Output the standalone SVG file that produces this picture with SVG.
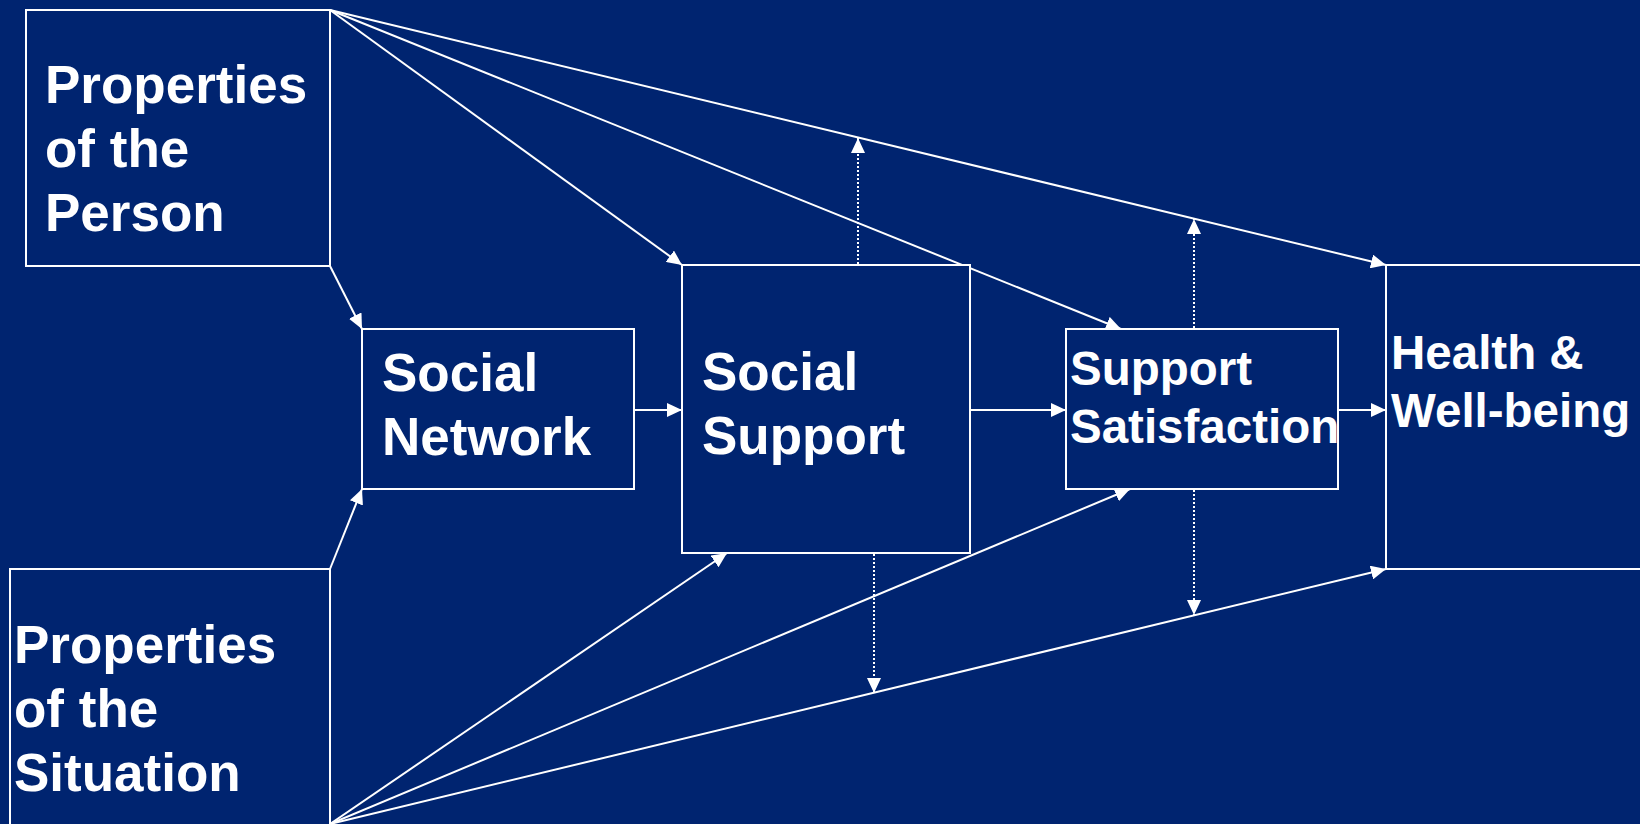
<svg xmlns="http://www.w3.org/2000/svg" width="1640" height="824" viewBox="0 0 1640 824">
  <defs>
    <marker id="arrow" markerUnits="userSpaceOnUse" markerWidth="16" markerHeight="14" refX="15" refY="7" orient="auto">
      <path d="M0,0 L15,7 L0,14 Z" fill="#ffffff"/>
    </marker>
    <style>
      .box { fill: #002470; stroke: #ffffff; stroke-width: 2; }
      .lbl { fill: #ffffff; font-family: "Liberation Sans", Arial, sans-serif; font-weight: bold; font-size: 53px; }
      .lbl-sm { fill: #ffffff; font-family: "Liberation Sans", Arial, sans-serif; font-weight: bold; font-size: 47.5px; }
      .edge { fill: none; stroke: #ffffff; stroke-width: 2; marker-end: url(#arrow); }
      .mod { fill: none; stroke: #ffffff; stroke-width: 2; stroke-dasharray: 2 2; marker-end: url(#arrow); }
    </style>
  </defs>

  <rect width="1640" height="824" fill="#002470"/>

  <!-- connectors -->
  <g id="connectors">
    <!-- from Properties of the Person -->
    <line class="edge" x1="330" y1="10" x2="682" y2="265"/>
    <line class="edge" x1="330" y1="10" x2="1121" y2="329"/>
    <line class="edge" x1="330" y1="10" x2="1386" y2="265"/>
    <line class="edge" x1="330" y1="266" x2="362" y2="329"/>
    <!-- from Properties of the Situation -->
    <line class="edge" x1="330" y1="569" x2="362" y2="489"/>
    <line class="edge" x1="330" y1="824" x2="727" y2="553"/>
    <line class="edge" x1="330" y1="824" x2="1130" y2="489"/>
    <line class="edge" x1="330" y1="824" x2="1386" y2="569"/>
    <!-- main chain -->
    <line class="edge" x1="634" y1="410" x2="682" y2="410"/>
    <line class="edge" x1="970" y1="410" x2="1066" y2="410"/>
    <line class="edge" x1="1338" y1="410" x2="1386" y2="410"/>
    <!-- moderating (dotted) paths -->
    <line class="mod" x1="858" y1="264" x2="858" y2="138"/>
    <line class="mod" x1="1194" y1="328" x2="1194" y2="219"/>
    <line class="mod" x1="874" y1="554" x2="874" y2="693"/>
    <line class="mod" x1="1194" y1="490" x2="1194" y2="615"/>
  </g>

  <g id="person">
    <rect class="box" x="26" y="10" width="304" height="256"/>
    <text class="lbl" x="45" y="103">Properties</text>
    <text class="lbl" x="45" y="167">of the</text>
    <text class="lbl" x="45" y="231">Person</text>
  </g>

  <g id="situation">
    <rect class="box" x="10" y="569" width="320" height="270"/>
    <text class="lbl" x="14" y="663">Properties</text>
    <text class="lbl" x="14" y="727">of the</text>
    <text class="lbl" x="14" y="791">Situation</text>
  </g>

  <g id="social-network">
    <rect class="box" x="362" y="329" width="272" height="160"/>
    <text class="lbl" x="382" y="391">Social</text>
    <text class="lbl" x="382" y="455">Network</text>
  </g>

  <g id="social-support">
    <rect class="box" x="682" y="265" width="288" height="288"/>
    <text class="lbl" x="702" y="390">Social</text>
    <text class="lbl" x="702" y="454">Support</text>
  </g>

  <g id="support-satisfaction">
    <rect class="box" x="1066" y="329" width="272" height="160"/>
    <text class="lbl-sm" x="1070" y="385">Support</text>
    <text class="lbl-sm" x="1070" y="443">Satisfaction</text>
  </g>

  <g id="health">
    <rect class="box" x="1386" y="265" width="270" height="304"/>
    <text class="lbl-sm" x="1391" y="369">Health &amp;</text>
    <text class="lbl-sm" x="1391" y="427">Well-being</text>
  </g>
</svg>
